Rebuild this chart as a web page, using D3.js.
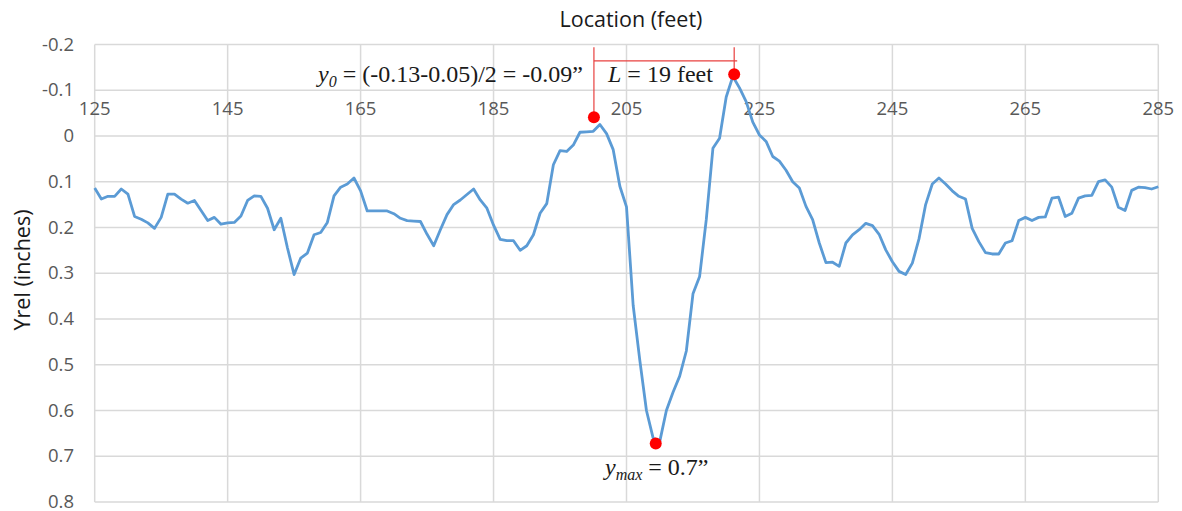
<!DOCTYPE html>
<html><head><meta charset="utf-8">
<script src="https://cdn.jsdelivr.net/npm/d3@7"></script>
<style>body{margin:0;background:#fff;overflow:hidden}</style>
</head><body>
<svg id="c" width="1182" height="511"></svg>
<script>
const feet = [
125,126,127,128,129,130,131,132,133,134,
135,136,137,138,139,140,141,142,143,144,
145,146,147,148,149,150,151,152,153,154,
155,156,157,158,159,160,161,162,163,164,
165,166,167,168,169,170,171,172,173,174,
175,176,177,178,179,180,181,182,183,184,
185,186,187,188,189,190,191,192,193,194,
195,196,197,198,199,200,201,202,203,204,
205,206,207,208,209,210,211,212,213,214,
215,216,217,218,219,220,221,222,223,224,
225,226,227,228,229,230,231,232,233,234,
235,236,237,238,239,240,241,242,243,244,
245,246,247,248,249,250,251,252,253,254,
255,256,257,258,259,260,261,262,263,264,
265,266,267,268,269,270,271,272,273,274,
275,276,277,278,279,280,281,282,283,284,
285];
const yrel = [
0.114,0.138,0.132,0.132,0.116,0.127,0.176,0.182,0.190,0.202,
0.178,0.127,0.127,0.138,0.147,0.141,0.163,0.185,0.178,0.193,
0.190,0.189,0.175,0.141,0.131,0.132,0.158,0.205,0.180,0.245,
0.303,0.267,0.256,0.216,0.211,0.189,0.131,0.112,0.105,0.092,
0.120,0.164,0.164,0.164,0.164,0.170,0.180,0.185,0.186,0.187,
0.215,0.240,0.205,0.172,0.150,0.140,0.128,0.116,0.140,0.158,
0.195,0.226,0.229,0.229,0.250,0.240,0.216,0.169,0.148,0.063,
0.032,0.034,0.020,-0.008,-0.009,-0.010,-0.025,-0.005,0.030,0.110,
0.155,0.370,0.490,0.600,0.660,0.668,0.600,0.560,0.525,0.470,
0.345,0.307,0.183,0.027,0.005,-0.085,-0.130,-0.105,-0.075,-0.030,
-0.002,0.012,0.045,0.055,0.075,0.100,0.114,0.154,0.183,0.234,
0.277,0.276,0.285,0.234,0.216,0.205,0.191,0.196,0.215,0.249,
0.275,0.296,0.303,0.278,0.225,0.150,0.105,0.092,0.105,0.120,
0.132,0.138,0.202,0.231,0.255,0.258,0.258,0.234,0.229,0.185,
0.178,0.185,0.178,0.177,0.136,0.134,0.176,0.169,0.136,0.131,
0.130,0.100,0.096,0.112,0.156,0.163,0.119,0.112,0.113,0.116,
0.111];
const xTicks = [125,145,165,185,205,225,245,265,285];
const yTicks = [-0.2,-0.1,0,0.1,0.2,0.3,0.4,0.5,0.6,0.7,0.8];
const yTickLabels = ["-0.2","-0.1","0","0.1","0.2","0.3","0.4","0.5","0.6","0.7","0.8"];
const markFeet = [200.1, 221.2, 209.4];
const markYrel = [-0.041, -0.135, 0.672];
const bracketTop = -0.194, bracketBar = -0.164;

const svg = d3.select("#c");
const x = d3.scaleLinear().domain([125,285]).range([94.7,1158.3]);
const y = d3.scaleLinear().domain([-0.2,0.8]).range([44.4,502]);

// grid
const grid = svg.append("g").attr("stroke","#d9d9d9").attr("stroke-width",1.5);
grid.selectAll("line.h").data(yTicks).join("line").attr("class","h")
  .attr("x1",x(125)).attr("x2",x(285)).attr("y1",d=>y(d)).attr("y2",d=>y(d));
grid.selectAll("line.v").data(xTicks).join("line").attr("class","v")
  .attr("x1",d=>x(d)).attr("x2",d=>x(d)).attr("y1",y(-0.2)).attr("y2",y(0.8));

// y tick labels
svg.append("g").selectAll("text").data(yTicks).join("text")
  .attr("x",74).attr("y",d=>y(d)).attr("dy","0.33em").attr("text-anchor","end")
  .attr("font-family","Open Sans").attr("font-size",18.5).attr("fill","#595959")
  .text((d,i)=>yTickLabels[i]);
// x tick labels (axis crosses at 0, labels above due to reversed axis)
svg.append("g").selectAll("text").data(xTicks).join("text")
  .attr("x",d=>x(d)).attr("y",y(0)-21).attr("text-anchor","middle")
  .attr("font-family","Open Sans").attr("font-size",18.5).attr("fill","#595959")
  .text(d=>d);

// titles
svg.append("text").attr("x",631).attr("y",27).attr("text-anchor","middle")
  .attr("font-family","Open Sans").attr("font-size",21.5).attr("fill","#1a1a1a").text("Location (feet)");
svg.append("text").attr("transform","translate(30,270) rotate(-90)").attr("text-anchor","middle")
  .attr("font-family","Open Sans").attr("font-size",21.5).attr("fill","#1a1a1a").text("Yrel (inches)");

// data line
const line = d3.line().x((d,i)=>x(feet[i])).y(d=>y(d));
svg.append("path").datum(yrel).attr("d",line).attr("fill","none")
  .attr("stroke","#5b9bd5").attr("stroke-width",2.8).attr("stroke-linejoin","round");

// annotation bracket
const ann = svg.append("g").attr("stroke","#e8403f").attr("stroke-width",1.2);
ann.append("line").attr("x1",x(markFeet[0])).attr("x2",x(markFeet[0])).attr("y1",y(bracketTop)).attr("y2",y(markYrel[0]));
ann.append("line").attr("x1",x(markFeet[1])).attr("x2",x(markFeet[1])).attr("y1",y(bracketTop)).attr("y2",y(markYrel[1]));
ann.append("line").attr("x1",x(markFeet[0])).attr("x2",x(markFeet[1])+3).attr("y1",y(bracketBar)).attr("y2",y(bracketBar));

svg.append("g").selectAll("circle").data(markYrel).join("circle")
  .attr("cx",(d,i)=>x(markFeet[i])).attr("cy",d=>y(d)).attr("r",6).attr("fill","#ff0000");

// annotation texts
const serif = "Liberation Serif";
const t1 = svg.append("text").attr("x",318).attr("y",82).attr("font-family",serif).attr("font-size",24).attr("fill","#1a1a1a");
t1.append("tspan").attr("font-style","italic").text("y");
t1.append("tspan").attr("font-style","italic").attr("font-size",16).attr("dy",5).text("0");
t1.append("tspan").attr("dy",-5).text(" = (-0.13-0.05)/2 = -0.09\u201D");

const t2 = svg.append("text").attr("x",608).attr("y",82).attr("font-family",serif).attr("font-size",24).attr("fill","#1a1a1a");
t2.append("tspan").attr("font-style","italic").text("L");
t2.append("tspan").text(" = 19 feet");

const t3 = svg.append("text").attr("x",605).attr("y",475).attr("font-family",serif).attr("font-size",24).attr("fill","#1a1a1a");
t3.append("tspan").attr("font-style","italic").text("y");
t3.append("tspan").attr("font-style","italic").attr("font-size",16).attr("dy",5).text("max");
t3.append("tspan").attr("dy",-5).text(" = 0.7\u201D");
</script>
</body></html>
